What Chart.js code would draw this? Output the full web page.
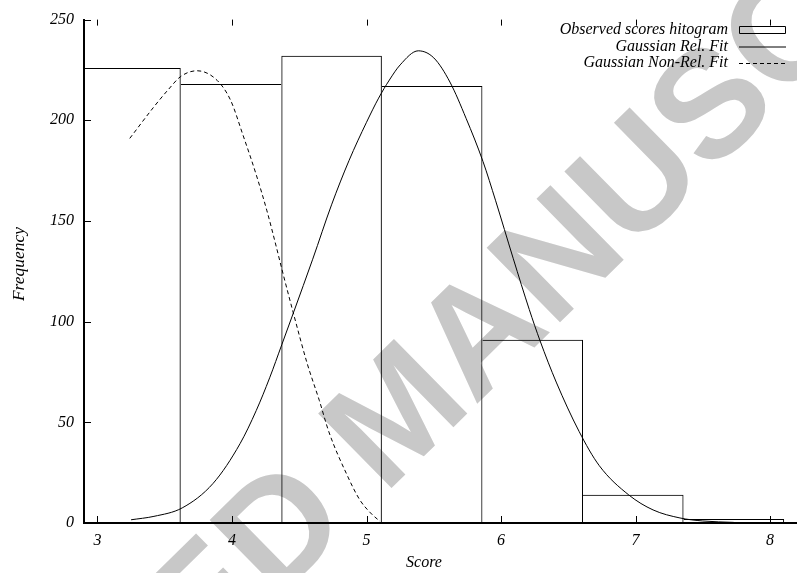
<!DOCTYPE html>
<html>
<head>
<meta charset="utf-8">
<script src="https://cdn.jsdelivr.net/npm/chart.js@4.4.0/dist/chart.umd.min.js"></script>
<style>
body { margin: 0; background: #fff; }
#cadre { width: 797px; height: 573px; }
</style>
</head>
<body>
<div id="cadre"><canvas id="histo"></canvas></div>
<script>
// histogramme des scores observés (centre de classe, effectif)
const centresClasses = [3.2455, 3.993, 4.7405, 5.488, 6.2355, 6.983, 7.7305];
const effectifs = [226, 218, 232, 217, 91, 14, 2];

// ajustement gaussien "Rel."
const relX = [3.25, 3.42, 3.63, 3.86, 4.06, 4.18, 4.28, 4.37, 4.46, 4.60, 4.74, 4.87, 5.00, 5.09, 5.17, 5.25, 5.385, 5.50, 5.62, 5.74, 5.866, 5.96, 6.09, 6.21, 6.29, 6.41, 6.58, 6.73, 6.95, 7.13, 7.33, 7.50, 7.73];
const relY = [1.6, 3.3, 7.5, 19.7, 39.4, 55.8, 72.1, 88.5, 105.0, 131.0, 158.0, 180.0, 199.0, 211.0, 220.0, 227.5, 234.5, 231.0, 219.0, 201.0, 179.5, 160.0, 131.5, 106.0, 90.5, 70.0, 45.5, 28.5, 13.9, 6.5, 2.5, 1.0, 0.3];

// ajustement gaussien "Non-Rel."
const nonRelX = [3.24, 3.42, 3.53, 3.62, 3.74, 3.89, 3.99, 4.08, 4.18, 4.26, 4.33, 4.37, 4.46, 4.56, 4.65, 4.72, 4.85, 4.95, 5.03, 5.10];
const nonRelY = [191.0, 206.7, 215.5, 221.8, 224.6, 219.8, 209.9, 193.0, 173.0, 155.0, 137.0, 126.3, 103.3, 79.0, 60.7, 45.3, 24.6, 11.5, 5.0, 0.8];

// graduations
const ticksX = [3, 4, 5, 6, 7, 8];
const ticksY = [0, 50, 100, 150, 200, 250];

const police = '"Liberation Serif", "Times New Roman", serif';

const versPoints = (xs, ys) => xs.map((x, i) => ({ x: x, y: ys[i] }));

// bordures : le côté commun est tracé par la barre la plus haute
const bordureBarre = ctx => {
    const i = ctx.dataIndex;
    const h = effectifs[i];
    const g = i > 0 ? effectifs[i - 1] : -1;
    const d = i < effectifs.length - 1 ? effectifs[i + 1] : -1;
    return { top: 1, bottom: 0, left: g > h ? 0 : 1, right: d > h ? 0 : 1 };
};

// filigrane, ticks intérieurs, légende et titres des axes
const decor = {
    id: 'decor',
    beforeDraw(chart) {
        const c = chart.ctx;
        c.save();
        c.translate(403, 418);
        c.rotate(-44.5 * Math.PI / 180);
        c.font = 'bold 152px "Liberation Sans", Arial, sans-serif';
        c.fillStyle = '#c8c8c8';
        c.textAlign = 'center';
        c.textBaseline = 'middle';
        c.fillText('ACCEPTED MANUSCRIPT', 0, 0);
        c.restore();
    },
    afterDraw(chart) {
        const c = chart.ctx;
        const a = chart.chartArea;
        const sx = chart.scales.x;
        const sy = chart.scales.y;
        c.save();
        c.strokeStyle = '#000';
        c.lineWidth = 1;
        c.beginPath();
        ticksX.forEach(v => {
            const px = Math.round(sx.getPixelForValue(v)) + 0.5;
            c.moveTo(px, a.bottom); c.lineTo(px, a.bottom - 7);
            c.moveTo(px, a.top); c.lineTo(px, a.top + 6);
        });
        ticksY.forEach(v => {
            const py = Math.round(sy.getPixelForValue(v)) + 0.5;
            c.moveTo(a.left, py); c.lineTo(a.left + 7, py);
        });
        c.stroke();

        // légende
        c.font = 'italic 16px ' + police;
        c.fillStyle = '#000';
        c.textAlign = 'right';
        c.textBaseline = 'middle';
        const lignes = [30, 46.5, 63];
        chart.data.datasets.forEach((d, i) => {
            const y = lignes[i];
            c.fillText(d.label, 728, y);
            c.beginPath();
            if (i === 0) {
                c.rect(739.5, y - 3.5, 46, 7);
            } else {
                c.setLineDash(d.borderDash || []);
                c.moveTo(739, y + 0.5);
                c.lineTo(786, y + 0.5);
            }
            c.stroke();
            c.setLineDash([]);
        });

        // titres des axes
        c.textAlign = 'center';
        c.fillText('Score', 424, 563);
        c.font = 'italic 17.5px ' + police;
        c.translate(19, 264);
        c.rotate(-Math.PI / 2);
        c.fillText('Frequency', 0, 0);
        c.restore();
    }
};

const config = {
    type: 'bar',
    data: {
        datasets: [{
            label: 'Observed scores hitogram',
            data: versPoints(centresClasses, effectifs),
            backgroundColor: 'rgba(0,0,0,0)',
            borderColor: '#000',
            borderWidth: bordureBarre,
            barPercentage: 1,
            categoryPercentage: 1,
            inflateAmount: 0,
            order: 3
        }, {
            type: 'line',
            label: 'Gaussian Rel. Fit',
            data: versPoints(relX, relY),
            borderColor: '#000',
            borderWidth: 1,
            pointRadius: 0,
            cubicInterpolationMode: 'monotone',
            fill: false,
            order: 2
        }, {
            type: 'line',
            label: 'Gaussian Non-Rel. Fit',
            data: versPoints(nonRelX, nonRelY),
            borderColor: '#000',
            borderWidth: 1,
            borderDash: [4, 3],
            pointRadius: 0,
            cubicInterpolationMode: 'monotone',
            fill: false,
            order: 1
        }]
    },
    options: {
        responsive: true,
        maintainAspectRatio: false,
        animation: false,
        events: [],
        layout: { padding: { top: 15, right: 0, left: 0, bottom: 0 } },
        plugins: {
            legend: { display: false },
            tooltip: { enabled: false }
        },
        scales: {
            x: {
                type: 'linear',
                min: 2.9,
                max: 8.2,
                offset: false,
                afterBuildTicks: s => { s.ticks = ticksX.map(v => ({ value: v })); },
                afterFit: s => { s.height = 50; },
                grid: { display: false, drawTicks: false },
                border: { display: true, color: '#000', width: 2 },
                ticks: {
                    color: '#000',
                    padding: 8,
                    maxRotation: 0,
                    font: { family: police, style: 'italic', size: 16 }
                }
            },
            y: {
                type: 'linear',
                min: 0,
                max: 250,
                afterBuildTicks: s => { s.ticks = ticksY.map(v => ({ value: v })); },
                afterFit: s => { s.width = 84; },
                grid: { display: false, drawTicks: false },
                border: { display: true, color: '#000', width: 2 },
                ticks: {
                    color: '#000',
                    padding: 10,
                    font: { family: police, style: 'italic', size: 16 }
                }
            }
        }
    },
    plugins: [decor]
};

const graphe = new Chart(document.getElementById('histo').getContext('2d'), config);
</script>
</body>
</html>
